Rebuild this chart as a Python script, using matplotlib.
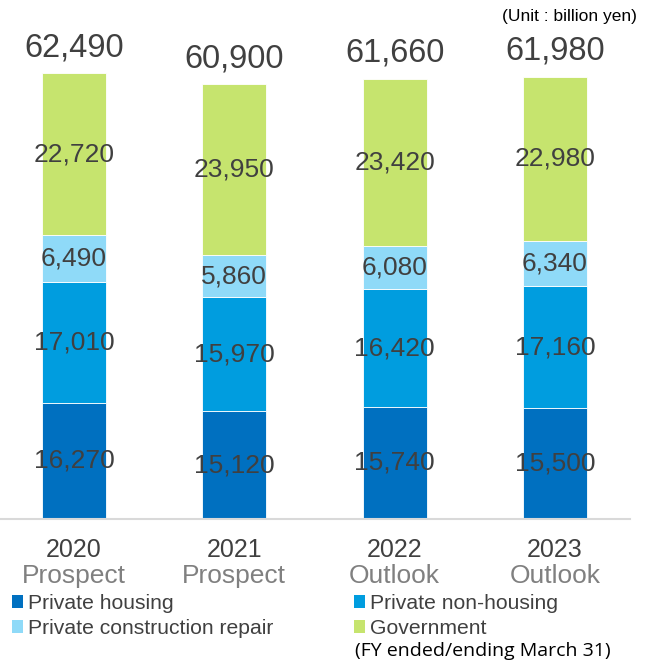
import numpy as np
import matplotlib
matplotlib.use("Agg")
import matplotlib.pyplot as plt
import matplotlib.transforms as mtransforms

plt.rcParams['font.family'] = ['Liberation Sans', 'DejaVu Sans']

years = ['2020', '2021', '2022', '2023']
kinds = ['Prospect', 'Prospect', 'Outlook', 'Outlook']
series = ['Private housing', 'Private non-housing', 'Private construction repair', 'Government']
housing = [16270, 15120, 15740, 15500]
non_housing = [17010, 15970, 16420, 17160]
repair = [6490, 5860, 6080, 6340]
government = [22720, 23950, 23420, 22980]
totals = [62490, 60900, 61660, 61980]

colors = ['#0070C0', '#009DDF', '#8FDAF8', '#C6E46E']
text_color = '#404040'

fig = plt.figure(figsize=(6.52, 6.68), dpi=100)
ax = fig.add_axes([0.0, 0.223, 0.966, 0.777])

x = np.arange(len(years))
bottom = np.zeros(len(years))
handles = []
for name, vals, col in zip(series, [housing, non_housing, repair, government], colors):
    vals = np.array(vals)
    b = ax.bar(x, vals, 0.40, bottom=bottom, color=col, edgecolor='white', linewidth=0.6, label=name)
    handles.append(b)
    for xi, v, bt in zip(x, vals, bottom):
        ax.text(xi, bt + v / 2, f'{v:,}', ha='center', va='center', fontsize=19, color=text_color)
    bottom += vals

for xi, t in zip(x, totals):
    ax.text(xi, t + 1400, f'{t:,}', ha='center', va='bottom', fontsize=23.5, color=text_color)

ax.set_xlim(-0.462, 3.468)
ax.set_ylim(0, 72720)
for s in ['top', 'right', 'left']:
    ax.spines[s].set_visible(False)
ax.spines['bottom'].set_color('#D9D9D9')
ax.spines['bottom'].set_linewidth(1.5)
ax.set_xticks([])
ax.set_yticks([])

trans = mtransforms.blended_transform_factory(ax.transData, fig.transFigure)
for xi, yr, k in zip(x, years, kinds):
    ax.text(xi, 1 - 550 / 668, yr, transform=trans, ha='center', va='center', fontsize=18, color=text_color)
    ax.text(xi, 1 - 576 / 668, k, transform=trans, ha='center', va='center', fontsize=19, color='#808080')

leg = fig.legend([handles[0], handles[2], handles[1], handles[3]],
                 [series[0], series[2], series[1], series[3]],
                 ncol=2, loc='upper left', bbox_to_anchor=(12 / 652, 1 - 594 / 668),
                 frameon=False, fontsize=15.2, handlelength=0.52, handleheight=0.52,
                 handletextpad=0.25, columnspacing=3.8, labelspacing=0.28,
                 borderaxespad=0, borderpad=0, labelcolor=text_color)
for h in leg.legend_handles:
    h.set_edgecolor('none')

fig.text(637 / 652, 1 - 17 / 668, '(Unit : billion yen)', ha='right', va='center', fontsize=12.5, color='black')
fig.text(483 / 652, 1 - 651 / 668, '(FY ended/ending March 31)', ha='center', va='center',
         fontsize=14, color='black', family=['Open Sans', 'DejaVu Sans'])

fig.savefig('out.png', dpi=100)
